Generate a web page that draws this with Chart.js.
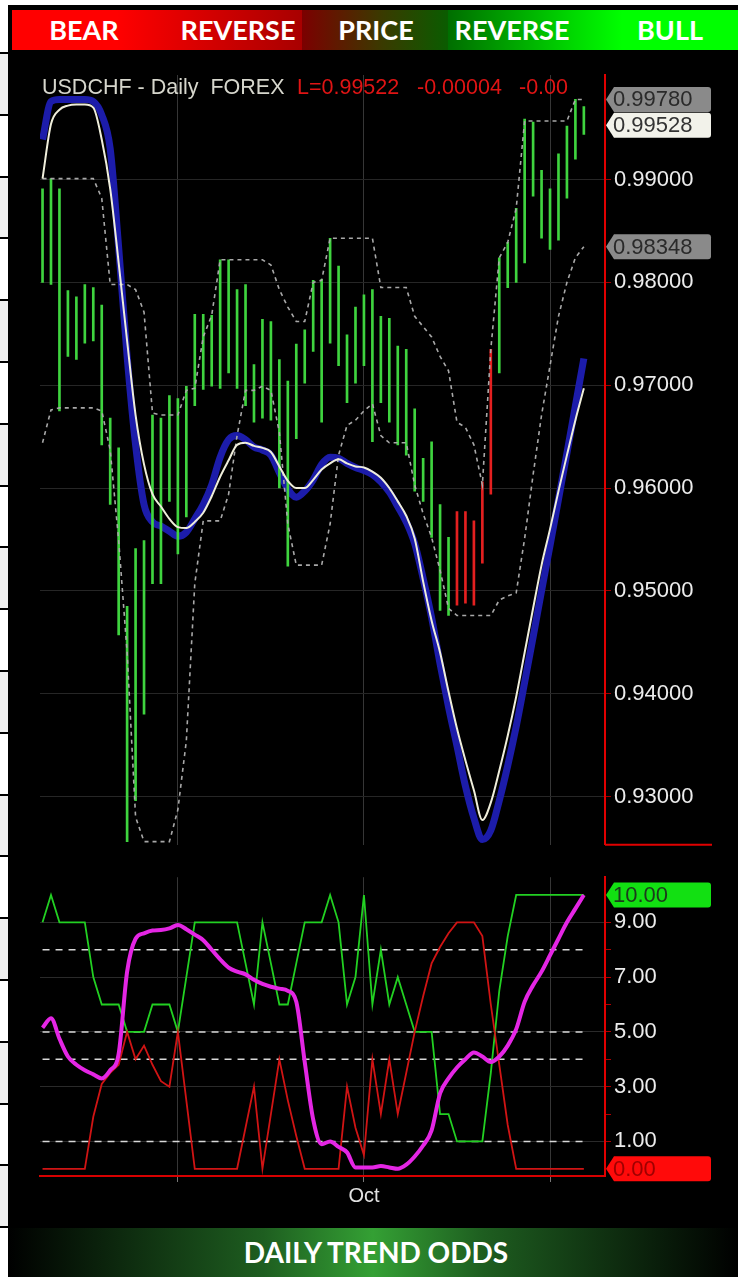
<!DOCTYPE html>
<html><head><meta charset="utf-8">
<script src="https://cdn.jsdelivr.net/npm/chart.js@4.4.1/dist/chart.umd.min.js"></script>
<style>
html,body{margin:0;padding:0;background:#fff;}
body{width:738px;height:1277px;position:relative;overflow:hidden;font-family:"Liberation Sans",Arial,sans-serif;}
#strip{position:absolute;left:0;top:52px;width:8px;height:1225px;
 background:repeating-linear-gradient(to bottom,#000 0px,#000 2px,#f0f0f0 2px,#f0f0f0 61.8px,#000 61.8px,#000 63.8px,#fff 63.8px,#fff 123.6px);}
#panel{position:absolute;left:8px;top:5px;width:730px;height:1223px;background:#000;}
#head{position:absolute;left:12px;top:10px;width:726px;height:40px;
 background:linear-gradient(to right,#ff0000 0px,#ff0000 105px,#a80000 290px,#7c0000 290px,#3a3a00 370px,#0a5c00 436px,#006e00 436px,#00d800 560px,#00ff00 610px,#00ff00 726px);}
.hl{position:absolute;top:3px;height:40px;line-height:41px;color:#fff;font:700 27px Lato,"Open Sans",sans-serif;transform:translateX(-50%);white-space:nowrap;}
#foot{position:absolute;left:8px;top:1228px;width:730px;height:49px;
 background:linear-gradient(to right,#000 0%,#0a200b 12%,#1e5e20 35%,#34a034 50%,#1e5e20 65%,#0a200b 88%,#000 100%);}
#foot span{position:absolute;left:368px;top:7px;height:49px;line-height:50px;transform:translateX(-50%);color:#fff;font:700 28px Lato,"Open Sans",sans-serif;white-space:nowrap;}
canvas{position:absolute;left:8px;}
#price{top:53px;}
#odds{top:861px;}
.ttl{position:absolute;top:76px;font-size:21.5px;line-height:23px;white-space:pre;}
.red{color:#e01414;}
</style></head>
<body>
<div id="strip"></div>
<div id="panel"></div>
<div id="head">
 <span class="hl" style="left:72px">BEAR</span>
 <span class="hl" style="left:226px">REVERSE</span>
 <span class="hl" style="left:364px">PRICE</span>
 <span class="hl" style="left:500px">REVERSE</span>
 <span class="hl" style="left:658px">BULL</span>
</div>
<canvas id="price" width="730" height="808"></canvas>
<canvas id="odds" width="730" height="366"></canvas>
<div class="ttl" style="left:42px;color:#d6d6cc">USDCHF - Daily  FOREX</div>
<div class="ttl red" style="left:297px">L=0.99522</div>
<div class="ttl red" style="left:417px">-0.00004</div>
<div class="ttl red" style="left:519px">-0.00</div>
<div id="foot"><span>DAILY TREND ODDS</span></div>
<script>
// ---------- data ----------
const highs = [0.9891,0.9901,0.9891,0.9792,0.9786,0.9798,0.9795,0.9778,0.9668,0.9639,
0.9485,0.9541,0.9549,0.9671,0.9668,0.9690,0.9687,0.9699,0.9769,0.9769,
0.9768,0.9822,0.9822,0.9793,0.9798,0.9720,0.9764,0.9762,0.9725,0.9704,
0.9740,0.9754,0.9802,0.9803,0.9843,0.9816,0.9749,0.9776,0.9788,0.9793,
0.9767,0.9765,0.9738,0.9735,0.9677,0.9629,0.9645,0.9584,0.9552,0.9577,
0.9577,0.9568,0.9606,0.9735,0.9824,0.9839,0.9872,0.9959,0.9956,0.9909,
0.9891,0.9925,0.9952,0.9978,0.9971];
const lows = [0.9800,0.9798,0.9675,0.9728,0.9725,0.9741,0.9743,0.9642,0.9584,0.9457,
0.9256,0.9296,0.9380,0.9507,0.9507,0.9587,0.9536,0.9572,0.9680,0.9696,
0.9699,0.9697,0.9712,0.9697,0.9680,0.9664,0.9668,0.9666,0.9600,0.9524,
0.9648,0.9702,0.9733,0.9664,0.9741,0.9719,0.9683,0.9702,0.9719,0.9645,
0.9683,0.9664,0.9642,0.9632,0.9597,0.9587,0.9552,0.9481,0.9476,0.9486,
0.9488,0.9486,0.9527,0.9594,0.9712,0.9795,0.9800,0.9819,0.9884,0.9843,
0.9832,0.9841,0.9882,0.9920,0.9944];
const bearBars = [49,50,51,52,53];
const upperBand = [0.9901,0.9901,0.9901,0.9901,0.9901,0.9901,0.9901,0.9882,0.9798,0.9798,
0.9798,0.9793,0.9771,0.9673,0.9671,0.9671,0.9671,0.9695,0.9697,0.9747,
0.9768,0.9822,0.9822,0.9822,0.9822,0.9822,0.9822,0.9817,0.9793,0.9776,
0.9762,0.9762,0.9800,0.9802,0.9843,0.9843,0.9843,0.9843,0.9843,0.9843,
0.9795,0.9795,0.9795,0.9795,0.9767,0.9757,0.9747,0.9728,0.9714,0.9664,
0.9659,0.9642,0.9603,0.9735,0.9824,0.9839,0.9872,0.9957,0.9957,0.9957,
0.9957,0.9957,0.9957,0.9978,0.9978];
const lowerBand = [0.9644,0.9676,0.9678,0.9678,0.9678,0.9678,0.9678,0.9675,0.9637,0.9549,
0.9440,0.9280,0.9256,0.9256,0.9256,0.9256,0.9287,0.9354,0.9507,0.9568,
0.9568,0.9568,0.9594,0.9651,0.9695,0.9695,0.9699,0.9695,0.9654,0.9565,
0.9525,0.9525,0.9525,0.9525,0.9565,0.9632,0.9661,0.9666,0.9675,0.9682,
0.9651,0.9644,0.9644,0.9644,0.9603,0.9575,0.9552,0.9520,0.9483,0.9476,
0.9476,0.9476,0.9476,0.9476,0.9491,0.9495,0.9498,0.9551,0.9613,0.9671,
0.9719,0.9767,0.9800,0.9824,0.98348];
const fastLine = [0.9901,0.9954,0.9968,0.9972,0.9973,0.9973,0.9970,0.9939,0.9891,0.9819,
0.9743,0.9671,0.9623,0.9594,0.9582,0.9570,0.9562,0.9561,0.9567,0.9576,
0.9592,0.9611,0.9627,0.9642,0.9644,0.9641,0.9639,0.9635,0.9621,0.9607,
0.9600,0.9600,0.9608,0.9618,0.9624,0.9628,0.9624,0.9621,0.9620,0.9616,
0.9610,0.9600,0.9587,0.9573,0.9551,0.9509,0.9471,0.9440,0.9402,0.9366,
0.9335,0.9306,0.9277,0.9294,0.9325,0.9359,0.9397,0.9440,0.9483,0.9525,
0.9560,0.9597,0.9632,0.9666,0.9697];
const slowLine = [0.9939,0.9976,0.9978,0.9978,0.9978,0.9978,0.9976,0.9963,0.9930,0.9834,
0.9728,0.9642,0.9584,0.9567,0.9563,0.9558,0.9553,0.9557,0.9570,0.9584,
0.9603,0.9630,0.9647,0.9651,0.9647,0.9640,0.9637,0.9632,0.9615,0.9599,
0.9591,0.9597,0.9608,0.9623,0.9630,0.9629,0.9624,0.9620,0.9617,0.9613,
0.9606,0.9596,0.9582,0.9567,0.9546,0.9512,0.9474,0.9429,0.9387,0.9349,
0.9310,0.9279,0.9258,0.9267,0.9296,0.9330,0.9368,0.9411,0.9455,0.9500,
0.9544,0.9589,0.9634,0.9680,0.9726];
const lastClose = 0.99528;
const bullOdds = [9,10,9,9,9,9,7,6,6,6,
5,5,5,6,6,6,5,7,9,9,
9,9,9,9,7.5,6,9,7.5,6,6,
7.5,9,9,9,10,9,6,7,10,6,
8,6,7,6,5,5,5,2,2,1,
1,1,1,3.5,6.5,8.5,10,10,10,10,
10,10,10,10,10];
const bearOdds = [0,0,0,0,0,0,1.9,3.1,3.5,3.8,
5,4,4.5,3.8,3.2,3,5,2.5,0,0,
0,0,0,0,1.5,3,0,2,4,2.5,
1.2,0,0,0,0,0,3,1.5,0.5,4,
2,4,2,3.5,5,6.3,7.5,8.1,8.6,9,
9,9,8.5,6,3.8,1.6,0,0,0,0,
0,0,0,0,0];
const trendOdds = [5.15,5.5,4.75,4.1,3.8,3.6,3.45,3.3,3.6,4.2,
7.2,8.4,8.6,8.7,8.72,8.78,8.9,8.75,8.55,8.35,
8.0,7.65,7.35,7.2,7.1,6.9,6.75,6.65,6.58,6.5,
6.1,3.9,1.8,0.9,1.0,0.8,0.6,0.05,0.05,0.05,
0.1,0.05,0.0,0.15,0.45,0.85,1.4,2.75,3.3,3.7,
4.0,4.25,4.1,3.9,4.1,4.5,5.1,6.1,6.7,7.2,
7.8,8.4,9.0,9.5,10];
const oddsLevels = [8,5,4,1];
const priceTicks = [0.93,0.94,0.95,0.96,0.97,0.98,0.99];
const oddsTicks = [1,2,3,4,5,6,7,8,9];
const monthTicks = [16,38,60];
const monthLabels = ['','Oct',''];

// ---------- helpers ----------
const xy = arr => arr.map((v,i)=>({x:i,y:v}));
const FONT = '"Liberation Sans", Arial, sans-serif';

const tagPlugin = {
  id:'tags',
  afterDraw(chart, args, opts){
    const ctx = chart.ctx, ys = chart.scales.y, a = chart.chartArea;
    const ax = a.right;
    ctx.save();
    if (opts.baseLine){
      ctx.strokeStyle = '#e00000'; ctx.lineWidth = 2;
      ctx.beginPath(); ctx.moveTo(ax, a.bottom); ctx.lineTo(ax+107, a.bottom); ctx.stroke();
    }
    (opts.items||[]).forEach(t=>{
      const py = ys.getPixelForValue(t.value);
      const h = 25;
      ctx.fillStyle = t.bg;
      ctx.beginPath();
      ctx.moveTo(ax+1, py);
      ctx.lineTo(ax+9, py-h/2);
      ctx.lineTo(ax+103, py-h/2);
      ctx.quadraticCurveTo(ax+106, py-h/2, ax+106, py-h/2+3);
      ctx.lineTo(ax+106, py+h/2-3);
      ctx.quadraticCurveTo(ax+106, py+h/2, ax+103, py+h/2);
      ctx.lineTo(ax+9, py+h/2);
      ctx.closePath();
      ctx.fill();
      ctx.fillStyle = t.fg;
      ctx.font = '22px '+FONT;
      ctx.textBaseline = 'middle';
      ctx.textAlign = 'left';
      ctx.fillText(t.text, ax+8, py+1);
    });
    ctx.restore();
  }
};

Chart.defaults.font.family = FONT;

// ---------- price chart ----------
new Chart(document.getElementById('price'), {
  data:{ datasets:[
    {type:'line', data:xy(slowLine), borderColor:'#1c1caa', borderWidth:7, pointRadius:0,
     cubicInterpolationMode:'monotone', order:6},
    {type:'bar', data:highs.map((h,i)=>({x:i,y:[lows[i],h]})),
     backgroundColor:highs.map((h,i)=>bearBars.includes(i)?'#e42020':'#3fd43f'),
     barThickness:2, grouped:false, order:5},
    {type:'line', data:xy(upperBand), borderColor:'#a8a8a8', borderWidth:1.6, borderDash:[4,4],
     pointRadius:0, order:3},
    {type:'line', data:xy(lowerBand), borderColor:'#a8a8a8', borderWidth:1.6, borderDash:[4,4],
     pointRadius:0, order:3},
    {type:'line', data:xy(fastLine), borderColor:'#efeedb', borderWidth:2, pointRadius:0,
     cubicInterpolationMode:'monotone', order:1}
  ]},
  options:{
    responsive:false, animation:false, devicePixelRatio:1,
    layout:{padding:{left:32, top:22, right:0, bottom:6}},
    plugins:{legend:{display:false}, tooltip:{enabled:false},
      tags:{baseLine:true, items:[
        {value:upperBand[upperBand.length-1], text:upperBand[upperBand.length-1].toFixed(5), bg:'#8a8a8a', fg:'#2a2a2a'},
        {value:lastClose, text:lastClose.toFixed(5), bg:'#f2f2ea', fg:'#333'},
        {value:lowerBand[lowerBand.length-1], text:lowerBand[lowerBand.length-1].toFixed(5), bg:'#8a8a8a', fg:'#2a2a2a'}
      ]}},
    scales:{
      x:{type:'linear', min:-0.3, max:66.5, offset:false,
         afterBuildTicks:s=>{s.ticks = monthTicks.map(v=>({value:v}));},
         afterFit:s=>{s.height=0;},
         ticks:{display:false}, grid:{color:'#363636', drawTicks:false, offset:false}, border:{display:false}},
      y:{position:'right', min:0.925296, max:1.000176,
         afterBuildTicks:s=>{s.ticks = priceTicks.map(v=>({value:v}));},
         afterFit:s=>{s.width=133;},
         ticks:{color:'#ececec', font:{size:22, family:FONT}, padding:3, callback:v=>Number(v).toFixed(5)},
         grid:{color:'#262626', tickColor:'#a00000', tickLength:6},
         border:{color:'#e00000', width:2}}
    }
  },
  plugins:[tagPlugin]
});

// ---------- odds chart ----------
const levelSets = oddsLevels.map(l=>({type:'line', data:[{x:0,y:l},{x:bullOdds.length-1,y:l}],
  borderColor:'#d8d8d8', borderWidth:1.5, borderDash:[7,6], pointRadius:0, order:5}));
new Chart(document.getElementById('odds'), {
  data:{ datasets:[
    ...levelSets,
    {type:'line', data:xy(bullOdds), borderColor:'#22d022', borderWidth:1.8, pointRadius:0, order:3},
    {type:'line', data:xy(bearOdds), borderColor:'#d01414', borderWidth:1.8, pointRadius:0, order:2},
    {type:'line', data:xy(trendOdds), borderColor:'#e426e4', borderWidth:4, pointRadius:0,
     cubicInterpolationMode:'monotone', order:1}
  ]},
  options:{
    responsive:false, animation:false, devicePixelRatio:1,
    layout:{padding:{left:32, top:4, right:0, bottom:0}},
    plugins:{legend:{display:false}, tooltip:{enabled:false},
      tags:{items:[
        {value:bullOdds[bullOdds.length-1], text:bullOdds[bullOdds.length-1].toFixed(2), bg:'#12e012', fg:'#1c3a1c'},
        {value:bearOdds[bearOdds.length-1], text:bearOdds[bearOdds.length-1].toFixed(2), bg:'#ff0a0a', fg:'#a00000'}
      ]}},
    scales:{
      x:{type:'linear', min:-0.3, max:66.5,
         afterBuildTicks:s=>{s.ticks = monthTicks.map(v=>({value:v}));},
         afterFit:s=>{s.height=51;},
         ticks:{color:'#e2e2e2', font:{size:20, family:FONT}, padding:2, maxRotation:0,
                callback:(v,i)=>monthLabels[i]},
         grid:{color:'#363636', tickColor:'#777', tickLength:6},
         border:{color:'#d80000', width:2}},
      y:{position:'right', min:-0.263, max:10.649,
         afterBuildTicks:s=>{s.ticks = oddsTicks.map(v=>({value:v}));},
         afterFit:s=>{s.width=133;},
         ticks:{color:'#ececec', font:{size:22, family:FONT}, padding:3,
                callback:v=>(v%2===1?Number(v).toFixed(2):'')},
         grid:{color:c=>(c.tick && c.tick.value%2===1)?'#2a2a2a':'rgba(0,0,0,0)', tickColor:'#b00000', tickLength:6},
         border:{color:'#e00000', width:2}}
    }
  },
  plugins:[tagPlugin]
});
</script>
</body></html>
